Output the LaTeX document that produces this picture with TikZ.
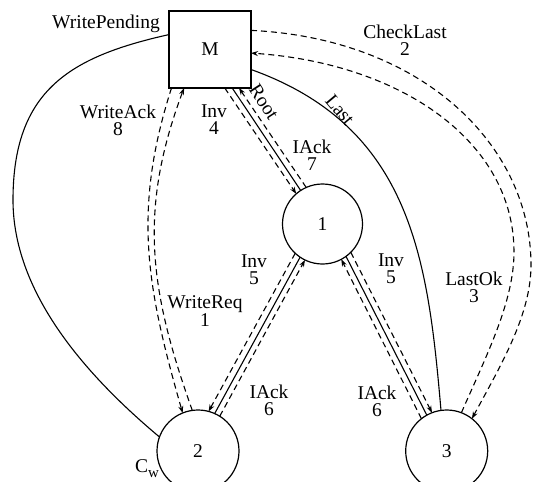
\documentclass[tikz,border=0pt]{standalone}
\usepackage{fontspec}
\setmainfont{Liberation Serif}
\usetikzlibrary{arrows.meta}
\begin{document}
\begin{tikzpicture}[x=1pt,y=-1pt,
  every node/.style={font=\fontsize{19.5}{17}\selectfont, inner sep=0pt, outer sep=0pt},
  ball/.style={circle, draw, line width=1.2pt, minimum size=82pt},
  boxnode/.style={draw, line width=1.3pt, minimum width=82pt, minimum height=77pt},
  lbl/.style={align=center},
  dsh/.style={line width=1.1pt, dash pattern=on 6pt off 4pt},
  sol/.style={line width=1.1pt},
  tip/.style={-{Stealth[length=7pt,width=5pt]}},
]
\clip (0,0) rectangle (536,482);
\fill[white] (0,0) rectangle (536,482);

% nodes
\node[boxnode] (M) at (210,49.5) {M};
\node[ball, minimum size=80pt] (n1) at (322.5,224) {1};
\node[ball] (n2) at (198,451) {2};
\node[ball] (n3) at (446.7,451) {3};

% M -- 1
\draw[dsh,tip] (M.291) -- (n1.131.9);
\draw[sol] (M.300) -- (n1.123.3);
\draw[dsh,tip] (n1.114.7) -- (M.307);

% 1 -- 2
\draw[dsh,tip] (n1.227.4) -- (n2.75.1);
\draw[sol] (n1.236.1) -- (n2.66.6);
\draw[dsh,tip] (n2.58.2) -- (n1.244.7);

% 1 -- 3
\draw[dsh,tip] (n3.128.2) -- (n1.298.3);
\draw[sol] (n1.306.9) -- (n3.119.8);
\draw[dsh,tip] (n1.315.8) -- (n3.111.4);

% M -- 2
\draw[dsh,tip] (M.225.4) .. controls (132,211.5) and (147,288) .. (n2.112.8);
\draw[dsh,tip] (n2.98.5) .. controls (149,289) and (138.5,210) .. (M.236);

% WritePending
\draw[sol] (M.160.5) .. controls (70.4,56.6) and (13,90) .. (13,200)
  .. controls (13,290) and (81.4,371.6) .. (n2.160);

% Last
\draw[sol] (M.334.6) .. controls (412,127) and (428,260.5) .. (n3.98);

% CheckLast
\draw[dsh,tip] (M.25.4) .. controls (422,38.5) and (531,145) .. (531,265)
  .. controls (531,315) and (500.6,365.6) .. (n3.52);

% LastOk
\draw[dsh,tip] (n3.69) .. controls (485.7,357) and (514,302) .. (514,252)
  .. controls (514,142) and (402,63.5) .. (M.355.5);

% labels
\node[lbl] (tWP) at (106,24) {WritePending};
\node[lbl] (tWA) at (118,120) {WriteAck\\8};
\node[lbl] (tI4) at (214,120) {Inv\\4};
\node[lbl, rotate=-57] (tRoot) at (264,102) {Root};
\node[lbl] (tIA7) at (312,155) {IAck\\7};
\node[lbl, rotate=-50] (tLast) at (340,110) {Last};
\node[lbl] (tCL) at (405,40) {CheckLast\\2};
\node[lbl] (tI5a) at (254,270) {Inv\\5};
\node[lbl] (tWR) at (205,311) {WriteReq\\1};
\node[lbl] (tIA6a) at (269,400) {IAck\\6};
\node[lbl] (tI5b) at (391,269) {Inv\\5};
\node[lbl] (tLO) at (474,287) {LastOk\\3};
\node[lbl] (tIA6b) at (377,401) {IAck\\6};
\node[lbl] (tCw) at (147,469) {C\raisebox{-5pt}{\fontsize{15}{15}\selectfont w}};
\end{tikzpicture}
\end{document}
